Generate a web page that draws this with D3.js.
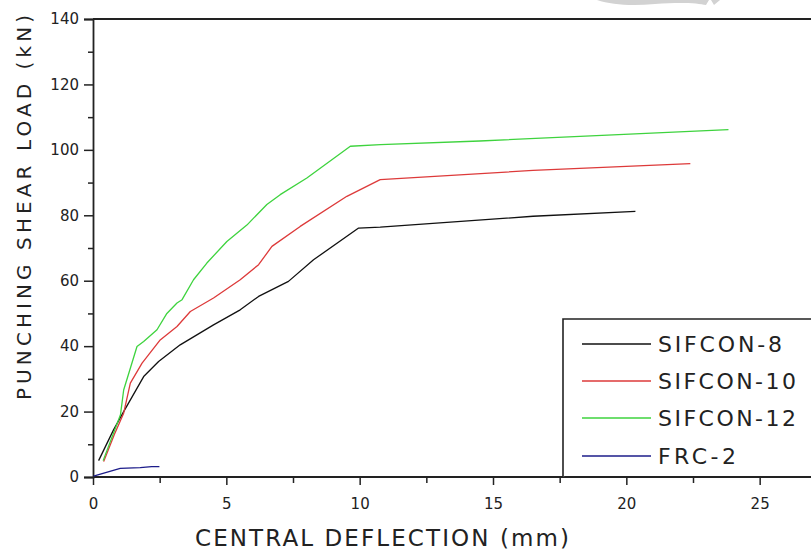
<!DOCTYPE html>
<html>
<head>
<meta charset="utf-8">
<script src="https://cdn.jsdelivr.net/npm/d3@7"></script>
<style>
  html, body { margin: 0; padding: 0; background: #fff; }
  svg { display: block; }
  text { font-family: "DejaVu Sans", "Open Sans", sans-serif; fill: #222; }
</style>
</head>
<body>
<script>
// ---- data ----
const seriesNames = ["SIFCON-8", "SIFCON-10", "SIFCON-12", "FRC-2"];
const seriesColors = ["#111111", "#dd3a3a", "#3ed33e", "#1c1c8a"];
const sifcon8X = [0.21, 0.77, 1.15, 1.9, 2.46, 3.27, 4.52, 5.52, 6.21, 7.33, 8.27, 9.96, 10.77, 16.5, 20.34];
const sifcon8Y = [5, 14.4, 20, 30.7, 35.3, 40.4, 46.5, 51.1, 55.2, 59.8, 66.4, 76.1, 76.4, 79.7, 81.2];
const sifcon10X = [0.4, 0.8, 1.15, 1.4, 1.84, 2.52, 3.15, 3.65, 4.52, 5.52, 6.21, 6.71, 7.77, 9.52, 10.77, 16.5, 22.4];
const sifcon10Y = [4.7, 13, 19.5, 28.7, 34.8, 41.9, 46, 50.6, 54.7, 60.3, 64.9, 70.5, 76.6, 85.8, 90.9, 93.7, 95.8];
const sifcon12X = [0.38, 1.03, 1.15, 1.65, 1.9, 2.4, 2.77, 3.15, 3.34, 3.77, 4.27, 5.02, 5.77, 6.52, 7.02, 8.02, 9.65, 10.78, 14.5, 19.5, 23.83];
const sifcon12Y = [5, 19, 26.6, 39.9, 41.4, 45, 50, 53.2, 54.2, 60.3, 65.4, 72, 77, 83.3, 86.3, 91.4, 101.1, 101.6, 102.7, 104.6, 106.2];
const frc2X = [0.02, 1.02, 1.77, 2.2, 2.49];
const frc2Y = [0.3, 2.65, 2.85, 3.15, 3.15];
const xTicks = [0, 5, 10, 15, 20, 25];
const xMinorTicks = [2.5, 7.5, 12.5, 17.5, 22.5];
const yTicks = [0, 20, 40, 60, 80, 100, 120, 140];
const yMinorTicks = [10, 30, 50, 70, 90, 110, 130];
const xTitle = "CENTRAL DEFLECTION (mm)";
const yTitle = "PUNCHING SHEAR LOAD (kN)";

const seriesX = [sifcon8X, sifcon10X, sifcon12X, frc2X];
const seriesY = [sifcon8Y, sifcon10Y, sifcon12Y, frc2Y];

// ---- drawing ----
const W = 811, H = 552;
const svg = d3.select("body").append("svg").attr("width", W).attr("height", H);

const x = d3.scaleLinear().domain([0, 27]).range([93, 813]);
const y = d3.scaleLinear().domain([0, 140]).range([477, 19]);

// faint watermark fragment at top
svg.append("path")
  .attr("d", "M597,0 C612,5 632,6 655,4 C680,2 698,3 706,5 L709,0 Z M711,0 L714,5 L720,0 Z")
  .attr("fill", "#d2d2d2");

// top border
svg.append("line").attr("x1", x(0)).attr("x2", W).attr("y1", y(140)).attr("y2", y(140))
  .attr("stroke", "#222").attr("stroke-width", 1.8);

// y axis
const yAxis = svg.append("g").attr("transform", `translate(${x(0)},0)`)
  .call(d3.axisLeft(y).tickValues(yTicks).tickSize(9).tickPadding(5).tickFormat(d3.format("d")));
yAxis.select(".domain").attr("stroke", "#222").attr("stroke-width", 1.8);
yAxis.selectAll(".tick line").attr("stroke", "#222").attr("stroke-width", 1.5);
yAxis.selectAll(".tick text").style("font-size", "15px").style("font-family", "DejaVu Sans").attr("fill", "#222");
const yMinor = svg.append("g").attr("transform", `translate(${x(0)},0)`)
  .call(d3.axisLeft(y).tickValues(yMinorTicks).tickSize(5).tickFormat(""));
yMinor.select(".domain").remove();
yMinor.selectAll(".tick line").attr("stroke", "#222").attr("stroke-width", 1.5);

// x axis
const xAxis = svg.append("g").attr("transform", `translate(0,${y(0)})`)
  .call(d3.axisBottom(x).tickValues(xTicks).tickSize(8).tickPadding(13).tickFormat(d3.format("d")));
xAxis.select(".domain").attr("stroke", "#222").attr("stroke-width", 1.8).attr("d", `M${x(0)},0H${W}`);
xAxis.selectAll(".tick line").attr("stroke", "#222").attr("stroke-width", 1.5);
xAxis.selectAll(".tick text").style("font-size", "15px").style("font-family", "DejaVu Sans").attr("fill", "#222");
const xMinor = svg.append("g").attr("transform", `translate(0,${y(0)})`)
  .call(d3.axisBottom(x).tickValues(xMinorTicks).tickSize(6).tickFormat(""));
xMinor.select(".domain").remove();
xMinor.selectAll(".tick line").attr("stroke", "#222").attr("stroke-width", 1.5);

// series lines
const line = d3.line().x(d => x(d[0])).y(d => y(d[1]));
seriesNames.forEach((name, i) => {
  const pts = seriesX[i].map((v, j) => [v, seriesY[i][j]]);
  svg.append("path").datum(pts)
    .attr("d", line)
    .attr("fill", "none")
    .attr("stroke", seriesColors[i])
    .attr("stroke-width", 1.3)
    .attr("stroke-linejoin", "round");
});

// legend box
const lg = svg.append("g");
lg.append("path")
  .attr("d", `M${W + 2},319 H563 V${y(0)}`)
  .attr("fill", "#fff").attr("stroke", "#222").attr("stroke-width", 1.6);
const legendRows = [344, 381, 418, 456];
const legendLens = [124, 138, 138, 78];
seriesNames.forEach((name, i) => {
  lg.append("line").attr("x1", 582).attr("x2", 651).attr("y1", legendRows[i]).attr("y2", legendRows[i])
    .attr("stroke", seriesColors[i]).attr("stroke-width", 1.3);
  lg.append("text").attr("x", 658).attr("y", legendRows[i] + 8)
    .attr("textLength", legendLens[i]).attr("lengthAdjust", "spacing")
    .style("font-size", "22px")
    .style("font-family", "'DejaVu Sans', sans-serif")
    .attr("fill", "#1a1a1a")
    .text(name);
});

// axis titles
svg.append("text").attr("x", 195).attr("y", 546)
  .attr("textLength", 374).attr("lengthAdjust", "spacing")
  .style("font-size", "23px")
  .style("font-family", "'DejaVu Sans', sans-serif")
  .attr("fill", "#1a1a1a")
  .text(xTitle);

svg.append("text")
  .attr("transform", "translate(31,400) rotate(-90)")
  .attr("x", 0).attr("y", 0)
  .attr("textLength", 385).attr("lengthAdjust", "spacing")
  .style("font-size", "20px")
  .style("font-family", "'DejaVu Sans', sans-serif")
  .attr("fill", "#2a2a2a")
  .text(yTitle);
</script>
</body>
</html>
